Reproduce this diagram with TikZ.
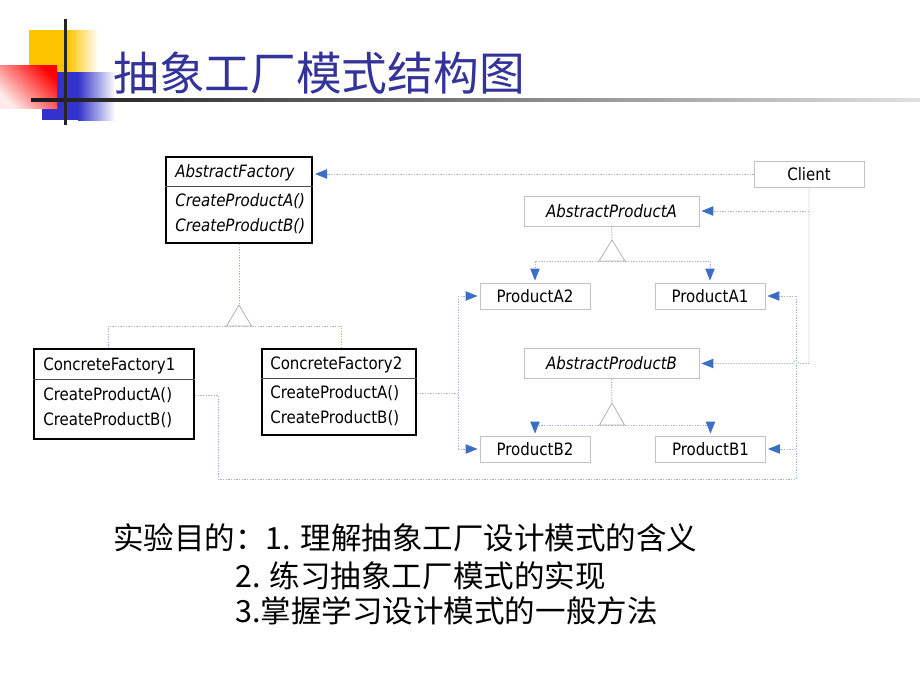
\documentclass[tikz,border=0pt]{standalone}
\usepackage{fontspec}
\setmainfont[FakeStretch=0.88]{DejaVu Sans}
\newfontfamily\cjk{Noto Sans CJK SC}
\usetikzlibrary{arrows.meta}

\definecolor{titleblue}{RGB}{51,51,153}
\definecolor{deckyellow}{RGB}{255,196,0}
\definecolor{deckblue}{RGB}{51,51,204}
\definecolor{linkblue}{RGB}{165,180,215}
\definecolor{tipblue}{RGB}{60,110,195}
\definecolor{boxgray}{RGB}{200,192,200}

\tikzstyle{classbox} = [rectangle, draw=black, line width=1.5pt, inner sep=0pt]
\tikzstyle{plainbox} = [rectangle, draw=boxgray, line width=0.6pt, minimum width=82.5pt, minimum height=19.5pt, inner sep=0pt, font=\fontsize{12.8}{15}\selectfont]
\tikzstyle{member} = [anchor=west, inner sep=0pt, font=\fontsize{12.8}{15}\selectfont]
\tikzstyle{imember} = [anchor=west, inner sep=0pt, font=\fontsize{12.8}{15}\selectfont\itshape]
\tikzstyle{link} = [draw=linkblue, line width=0.7pt, dash pattern=on 1pt off 1pt]
\tikzstyle{arrow} = [link, -{Triangle[width=7pt,length=9pt,color=tipblue]}, shorten >=1.5pt]
\tikzstyle{tri} = [draw=black!30, line width=0.6pt]
\tikzstyle{cjktext} = [anchor=west, inner sep=0pt, font=\cjk\fontsize{22.9}{27}\selectfont]

\begin{document}
\begin{tikzpicture}[x=0.75pt, y=-0.75pt]
\useasboundingbox (0,0) rectangle (920,690);

% slide corner decoration
\fill[deckyellow] (29,30) rectangle (68,72);
\shade[left color=deckyellow, right color=white] (68,30) rectangle (98,72);
\fill[deckblue] (42,72) rectangle (78,120);
\shade[left color=deckblue, right color=white] (78,72) rectangle (115,120);
\shade[bottom color=red!8, top color=red, shading angle=-45] (0,65) rectangle (57,108);
\shade[left color=black!90, middle color=black!50, right color=black!12] (31,98.5) rectangle (920,101.5);
\fill[black!85] (63.5,19) rectangle (66.5,125);

\node (title) [anchor=west, inner sep=0pt, text=titleblue, font=\cjk\fontsize{34.3}{40}\selectfont] at (113,73) {抽象工厂模式结构图};

% abstract factory
\node (factory) [classbox, minimum width=109.5pt, minimum height=64.5pt] at (239,200) {};
\node (factoryname) [imember] at (175,173) {AbstractFactory};
\node (factorya) [imember] at (175,201) {CreateProductA()};
\node (factoryb) [imember] at (175,226) {CreateProductB()};
\coordinate (factorysep) at (239,186);
\draw[black!70, line width=0.6pt] (factorysep -| factory.west) -- (factorysep -| factory.east);

% concrete factories
\node (cf1) [classbox, minimum width=120pt, minimum height=67.5pt] at (114,394) {};
\node (cf1name) [member] at (43,366) {ConcreteFactory1};
\node (cf1a) [member] at (43,395) {CreateProductA()};
\node (cf1b) [member] at (43,420) {CreateProductB()};
\coordinate (cf1sep) at (114,379);
\draw[black!70, line width=0.6pt] (cf1sep -| cf1.west) -- (cf1sep -| cf1.east);

\node (cf2) [classbox, minimum width=115.5pt, minimum height=64.5pt] at (339,392) {};
\node (cf2name) [member] at (270,365) {ConcreteFactory2};
\node (cf2a) [member] at (270,393) {CreateProductA()};
\node (cf2b) [member] at (270,418) {CreateProductB()};
\coordinate (cf2sep) at (339,378);
\draw[black!70, line width=0.6pt] (cf2sep -| cf2.west) -- (cf2sep -| cf2.east);

% client and products
\node (client) [plainbox] at (809,174) {Client};
\node (apa) [plainbox, minimum width=131.25pt, minimum height=22.5pt] at (611.5,211) {\itshape AbstractProductA};
\node (apb) [plainbox, minimum width=131.25pt, minimum height=22.5pt] at (611.5,363.5) {\itshape AbstractProductB};
\node (pa2) [plainbox] at (535,296) {ProductA2};
\node (pa1) [plainbox] at (710,296) {ProductA1};
\node (pb2) [plainbox] at (535,449) {ProductB2};
\node (pb1) [plainbox] at (710.5,449) {ProductB1};

% client uses
\draw[arrow] (client.west) -- (client.west -| factory.east);
\draw[arrow] (client.south |- apa.east) -- (apa.east);
\draw[arrow] (client.south) -- (client.south |- apb.east) -- (799,363.5) arc[start angle=0, end angle=-180, radius=3] -- (apb.east);

% factory 1 creates the *1 products
\coordinate (cf1turn) at (218,479);
\coordinate (busR) at (796,479);
\draw[link] (cf1a -| cf1.east) -| (cf1turn) -- (busR) -- (busR |- pa1.east);
\draw[arrow] (busR |- pa1.east) -- (pa1.east);
\draw[arrow] (busR |- pb1.east) -- (pb1.east);

% factory 2 creates the *2 products
\coordinate (busL) at (458,393);
\draw[link] (cf2a -| cf2.east) -- (busL);
\draw[link] (busL |- pa2.west) -- (busL |- pb2.west);
\draw[arrow] (busL |- pa2.west) -- (pa2.west);
\draw[arrow] (busL |- pb2.west) -- (pb2.west);

% inheritance
\coordinate (tipF) at (239,305);
\coordinate (baseF) at (239,326);
\draw[link] (factory.south) -- (tipF);
\draw[link] (baseF) -| ([xshift=-4.5pt]cf1.north);
\draw[link] (baseF) -| ([xshift=1.5pt]cf2.north);
\draw[tri] (tipF) -- ++(-12.5,21) -- ++(25,0) -- cycle;

\coordinate (tipA) at (612,240);
\coordinate (baseA) at (612,261);
\draw[link] (apa.south) -- (tipA);
\draw[arrow] (baseA) -| (pa2.north);
\draw[arrow] (baseA) -| (pa1.north);
\draw[tri] (tipA) -- ++(-13,21) -- ++(26,0) -- cycle;

\coordinate (tipB) at (612,403);
\coordinate (baseB) at (612,425);
\draw[link] (apb.south) -- (tipB);
\draw[arrow] (baseB) -| (pb2.north);
\draw[arrow] (baseB) -| (pb1.north);
\draw[tri] (tipB) -- ++(-12.5,22) -- ++(25,0) -- cycle;

% aims
\node (aim1) [cjktext] at (113,538) {实验目的：1. 理解抽象工厂设计模式的含义};
\node (aim2) [cjktext] at (235,576) {2. 练习抽象工厂模式的实现};
\node (aim3) [cjktext] at (235,611) {3.掌握学习设计模式的一般方法};

\end{tikzpicture}
\end{document}
